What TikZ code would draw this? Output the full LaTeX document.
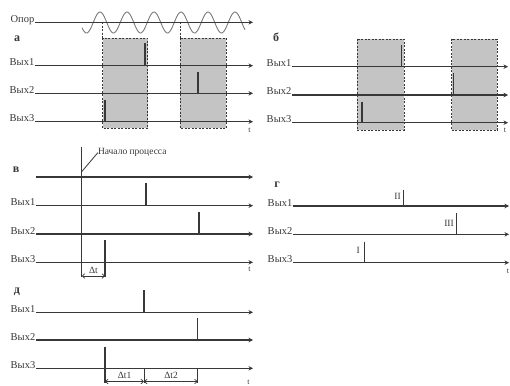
\documentclass[tikz,border=0pt]{standalone}
\usepackage{fontspec}
\setmainfont{Liberation Serif}
\usetikzlibrary{arrows.meta}
\definecolor{lc}{HTML}{383838}
\definecolor{boxgray}{HTML}{C4C4C4}
\definecolor{sinec}{HTML}{7A7A7A}
\tikzset{
  sig/.style={line width=1.2pt, draw=lc, -{Stealth[length=4.5pt,width=4.5pt]}},
  pulse/.style={line width=1.1pt, draw=lc},
  thin/.style={line width=0.8pt, draw=lc},
  boxd/.style={fill=boxgray, draw=lc, dash pattern=on 2pt off 1.5pt, line width=0.7pt},
  dline/.style={draw=lc, dash pattern=on 2pt off 1.5pt, line width=0.7pt},
  lbl/.style={font=\fontsize{10.5}{12}\selectfont, text=lc, anchor=base east, inner sep=0.5pt},
  plbl/.style={font=\fontsize{12}{13}\selectfont\bfseries, text=lc, inner sep=0pt},
  tlbl/.style={font=\fontsize{8}{9}\selectfont, text=lc, inner sep=0pt},
  small/.style={font=\fontsize{9.5}{11}\selectfont, text=lc, inner sep=0pt},
  dim/.style={line width=0.7pt, draw=lc, {Straight Barb[length=2.5pt,width=4.5pt]}-{Straight Barb[length=2.5pt,width=4.5pt]}},
}
\begin{document}
\begin{tikzpicture}[x=1pt,y=-1pt]
\useasboundingbox (0,0) rectangle (510,385);
\fill[white] (0,0) rectangle (510,385);
% ---------------- panel a ----------------
\draw[boxd] (102.7,38.3) rectangle (147.7,128.3);
\draw[boxd] (180,38.3) rectangle (226,128.3);
\draw[dline] (102.7,22.3) -- (102.7,38.3);
\draw[dline] (180,22.3) -- (180,38.3);
\draw[sinec, line width=0.9pt, domain=82:245, samples=200, smooth] plot (\x, {22.5 - 10.5*cos(13.3333*(\x-100))});
\node[lbl] (opor) at (35,22.3) {Опор};
\coordinate (oporE) at (253,22.3);
\draw[sig] (opor.base east) -- (oporE);
\node[plbl] (pa) at (17,39) {а};
\node[lbl] (a1) at (35,65.7) {Вых1};
\node[lbl] (a2) at (35,93.3) {Вых2};
\node[lbl] (a3) at (35,121.7) {Вых3};
\coordinate (a1E) at (253,65.7);
\coordinate (a2E) at (253,93.3);
\coordinate (a3E) at (253,121.7);
\draw[sig] (a1.base east) -- (a1E);
\draw[sig] (a2.base east) -- (a2E);
\draw[sig] (a3.base east) -- (a3E);
\coordinate (ap1) at (145,43.3);  \draw[pulse] (ap1) -- (145,65.7);
\coordinate (ap2) at (198,71.7);  \draw[pulse] (ap2) -- (198,93.3);
\coordinate (ap3) at (105,100);   \draw[pulse] (ap3) -- (105,121.7);
\node[tlbl] (ta) at (249.5,130) {t};
% ---------------- panel b ----------------
\draw[boxd] (357.3,39) rectangle (404,130);
\draw[boxd] (451.7,39) rectangle (497.3,130);
\node[plbl] (pb) at (276,37) {б};
\node[lbl] (b1) at (292,66.7) {Вых1};
\node[lbl] (b2) at (292,95) {Вых2};
\node[lbl] (b3) at (292,122.7) {Вых3};
\coordinate (b1E) at (508,66.7);
\coordinate (b2E) at (508,95);
\coordinate (b3E) at (508,122.7);
\draw[sig] (b1.base east) -- (b1E);
\draw[sig] (b2.base east) -- (b2E);
\draw[sig] (b3.base east) -- (b3E);
\draw[pulse] (401.7,45) -- (401.7,66.7);
\draw[pulse] (453.3,73.3) -- (453.3,95);
\draw[pulse] (362,101.7) -- (362,122.7);
\node[tlbl] (tb) at (505,130) {t};
% ---------------- panel v ----------------
\node[plbl] (pv) at (16,170) {в};
\coordinate (vTop) at (81.7,146.7);
\coordinate (vBot) at (81.7,277);
\draw[thin] (vTop) -- (vBot);
\node[small, anchor=west] (start) at (97.8,152.7) {Начало процесса};
\coordinate (lead) at (81.7,171.7);
\draw[thin] (lead) -- (start.west);
\coordinate (v0S) at (36,177);
\coordinate (v0E) at (253,177);
\draw[sig] (v0S) -- (v0E);
\node[lbl] (v1) at (36,205.7) {Вых1};
\node[lbl] (v2) at (36,234) {Вых2};
\node[lbl] (v3) at (36,262.3) {Вых3};
\coordinate (v1E) at (253,205.7);
\coordinate (v2E) at (253,234);
\coordinate (v3E) at (253,262.3);
\draw[sig] (v1.base east) -- (v1E);
\draw[sig] (v2.base east) -- (v2E);
\draw[sig] (v3.base east) -- (v3E);
\draw[pulse] (146,183.3) -- (146,205.7);
\draw[pulse] (199,211.7) -- (199,234);
\coordinate (vp3) at (105,240);
\coordinate (vp3b) at (105,277);
\draw[pulse] (vp3) -- (vp3b);
\coordinate (dA) at (81.7,276);
\coordinate (dB) at (105,276);
\draw[dim] (dA) -- (dB);
\node[small] (dt) at (93.4,270.5) {Δt};
\node[tlbl] (tv) at (249.5,269) {t};
% ---------------- panel g ----------------
\node[plbl] (pg) at (277,185) {г};
\node[lbl] (g1) at (293,206) {Вых1};
\node[lbl] (g2) at (293,234.3) {Вых2};
\node[lbl] (g3) at (293,262.7) {Вых3};
\coordinate (g1E) at (509,206);
\coordinate (g2E) at (509,234.3);
\coordinate (g3E) at (509,262.7);
\draw[sig] (g1.base east) -- (g1E);
\draw[sig] (g2.base east) -- (g2E);
\draw[sig] (g3.base east) -- (g3E);
\draw[pulse] (403.3,190) -- (403.3,206);
\node[small, anchor=east] (gII) at (401,196) {II};
\draw[pulse] (456.7,213.3) -- (456.7,234.3);
\node[small, anchor=east] (gIII) at (454,223) {III};
\draw[pulse] (364.3,241.7) -- (364.3,262.7);
\node[small, anchor=east] (gI) at (360,250) {I};
\node[tlbl] (tg) at (508,271) {t};
% ---------------- panel d ----------------
\node[plbl] (pd) at (17,292) {д};
\node[lbl] (d1) at (36,312.3) {Вых1};
\node[lbl] (d2) at (36,340) {Вых2};
\node[lbl] (d3) at (36,368.3) {Вых3};
\coordinate (d1E) at (253,312.3);
\coordinate (d2E) at (253,340);
\coordinate (d3E) at (253,368.3);
\draw[sig] (d1.base east) -- (d1E);
\draw[sig] (d2.base east) -- (d2E);
\draw[sig] (d3.base east) -- (d3E);
\draw[pulse] (144,290) -- (144,312.3);
\draw[pulse] (197.7,318.3) -- (197.7,340);
\coordinate (dp3) at (105,346.7);
\coordinate (dp3b) at (105,383);
\draw[pulse] (dp3) -- (dp3b);
\draw[thin] (144,368.3) -- (144,383);
\draw[thin] (197.7,368.3) -- (197.7,383);
\coordinate (e1) at (105,381.5);
\coordinate (e2) at (144,381.5);
\coordinate (e3) at (197.7,381.5);
\draw[dim] (e1) -- (e2);
\draw[dim] (e2) -- (e3);
\node[small] (dt1) at (124.5,375.5) {Δt1};
\node[small] (dt2) at (171,375.5) {Δt2};
\node[tlbl] (td) at (248.5,382) {t};
\end{tikzpicture}
\end{document}
